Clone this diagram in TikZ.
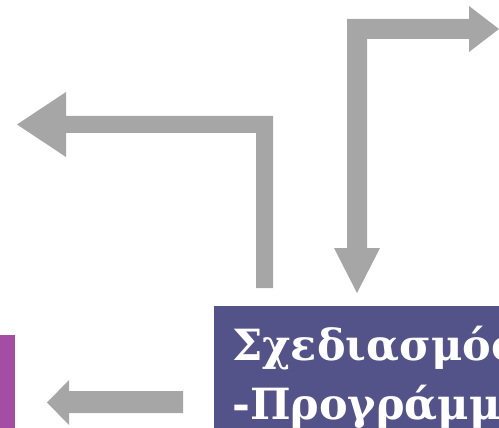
\documentclass[tikz,border=0pt]{standalone}
\usepackage{fontspec}
\newfontfamily\greekserif{DejaVu Serif}
\definecolor{arrowgrey}{HTML}{A6A6A6}
\definecolor{boxblue}{HTML}{53538A}
\definecolor{boxpurple}{HTML}{A54CA5}
\tikzset{
  bigarrow/.style={fill=arrowgrey, draw=none},
  phasebox/.style={fill=boxblue, draw=none},
  phasetext/.style={text=white, font=\greekserif\bfseries\fontsize{43}{59}\selectfont, anchor=base west, inner sep=0pt}
}
\begin{document}
\begin{tikzpicture}[x=1pt, y=-1pt]
\useasboundingbox (0,0) rectangle (499,428);
\clip (0,0) rectangle (499,428);
% boxes
\fill[boxpurple] (0,335) rectangle (15,428);
\fill[phasebox] (214,306) rectangle (520,440);
\node[phasetext] (l1) at (232,360) {Σχεδιασμός};
\node[phasetext] (l2) at (232,419) {-Προγράμματα};
% arrow up-left
\fill[bigarrow] (273,288) -- (273,116) -- (66,116) -- (66,92) -- (17,124.5) -- (66,157) -- (66,133) -- (256,133) -- (256,288) -- cycle;
% arrow right / down
\fill[bigarrow] (347,19) -- (469,19) -- (469,6) -- (499,29) -- (469,52) -- (469,39) -- (367,39) -- (367,248) -- (380,248) -- (357,293) -- (334,248) -- (347,248) -- cycle;
% arrow left bottom
\fill[bigarrow] (183,391) -- (69,391) -- (69,380) -- (47,402.5) -- (69,425) -- (69,413) -- (183,413) -- cycle;
\end{tikzpicture}
\end{document}
